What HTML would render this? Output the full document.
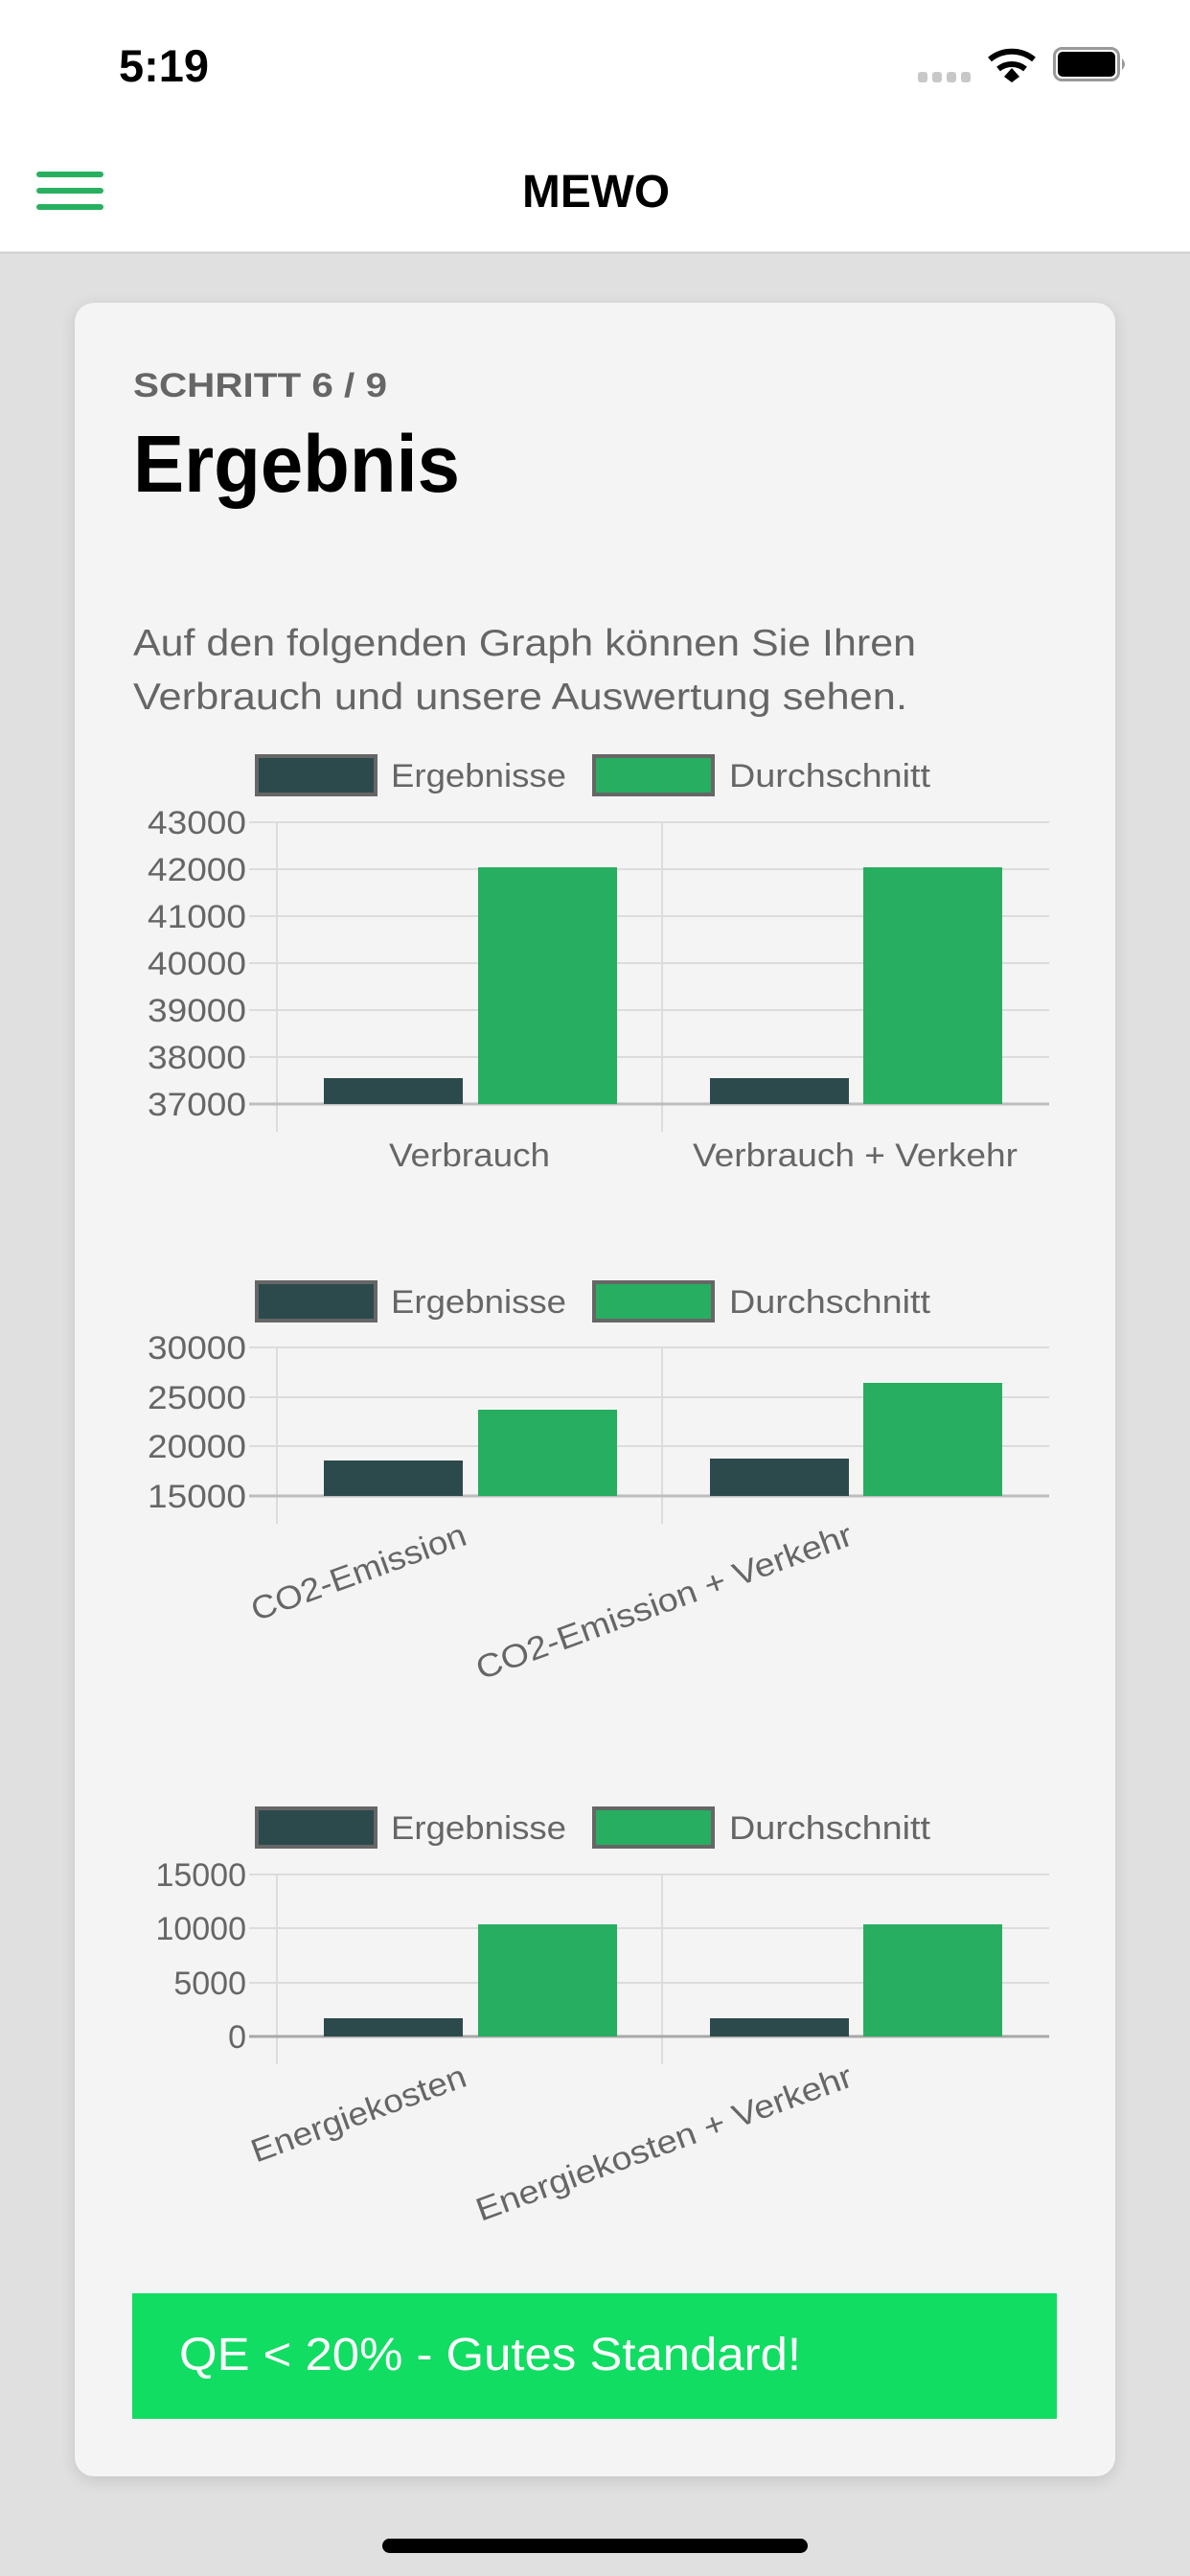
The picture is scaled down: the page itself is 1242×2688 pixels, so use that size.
<!DOCTYPE html>
<html><head><meta charset="utf-8"><style>
html,body{margin:0;padding:0}
body{width:1242px;height:2688px;background:#e0e0e0;position:relative;overflow:hidden;font-family:"Liberation Sans",sans-serif}
</style></head><body>
<svg width="1242" height="2688" viewBox="0 0 1242 2688" xmlns="http://www.w3.org/2000/svg" style="position:absolute;left:0;top:0">
<defs><filter id="sh" x="-5%" y="-5%" width="110%" height="110%"><feGaussianBlur stdDeviation="8"/></filter></defs>
<rect x="0" y="0" width="1242" height="263" fill="#fff"/>
<line x1="0" y1="263.5" x2="1242" y2="263.5" stroke="#cfcfcf" stroke-width="2"/>
<!-- status bar -->
<text x="124" y="85" font-size="47" font-weight="bold" fill="#000" font-family="Liberation Sans" textLength="94" lengthAdjust="spacingAndGlyphs">5:19</text>
<g fill="#c8c8c8"><rect x="958" y="75" width="10" height="11" rx="3"/><rect x="973" y="75" width="10" height="11" rx="3"/><rect x="988" y="75" width="10" height="11" rx="3"/><rect x="1003" y="75" width="10" height="11" rx="3"/></g>
<g fill="none" stroke="#000" stroke-width="6" stroke-linecap="butt">
<path d="M1033 62 A36 36 0 0 1 1079 62"/><path d="M1042 72 A22 22 0 0 1 1070 72"/></g>
<path d="M1048 80 L1056 71 L1064 80 L1056 86 Z" fill="#000"/>
<rect x="1100.5" y="50.5" width="67" height="33" rx="8" fill="none" stroke="#999" stroke-width="3"/>
<rect x="1104" y="54" width="60" height="26" rx="5" fill="#000"/>
<path d="M1171 61 Q1177 67 1171 73 Z" fill="#999"/>
<!-- nav -->
<g fill="#28b05f"><rect x="38" y="179" width="70" height="6" rx="3"/><rect x="38" y="196" width="70" height="6" rx="3"/><rect x="38" y="213" width="70" height="6" rx="3"/></g>
<text x="545" y="216" font-size="48" font-weight="bold" fill="#000" font-family="Liberation Sans" textLength="154" lengthAdjust="spacingAndGlyphs">MEWO</text>
<!-- card -->
<rect x="78" y="320" width="1086" height="2268" rx="20" fill="#000" opacity="0.12" filter="url(#sh)"/>
<rect x="78" y="316" width="1086" height="2268" rx="20" fill="#f4f4f4"/>
<text x="139" y="414" font-size="35" font-weight="bold" fill="#666" font-family="Liberation Sans" textLength="265" lengthAdjust="spacingAndGlyphs">SCHRITT 6 / 9</text>
<text x="139" y="513" font-size="84" font-weight="bold" fill="#000" font-family="Liberation Sans" textLength="341" lengthAdjust="spacingAndGlyphs">Ergebnis</text>
<text x="139" y="684" font-size="39" fill="#666" font-family="Liberation Sans" textLength="817" lengthAdjust="spacingAndGlyphs">Auf den folgenden Graph können Sie Ihren</text>
<text x="139" y="740" font-size="39" fill="#666" font-family="Liberation Sans" textLength="808" lengthAdjust="spacingAndGlyphs">Verbrauch und unsere Auswertung sehen.</text>

<g font-family="Liberation Sans" font-size="34" fill="#666" lengthAdjust="spacingAndGlyphs">
<!-- Chart 1 -->
<rect x="268" y="789" width="124" height="40" fill="#2c4a4b" stroke="#666" stroke-width="4"/>
<text x="408" y="821" textLength="183" lengthAdjust="spacingAndGlyphs">Ergebnisse</text>
<rect x="620" y="789" width="124" height="40" fill="#27ae60" stroke="#666" stroke-width="4"/>
<text x="761" y="821" textLength="210" lengthAdjust="spacingAndGlyphs">Durchschnitt</text>
<g stroke="#dcdcdc" stroke-width="2">
<line x1="260" y1="858" x2="1095" y2="858"/><line x1="260" y1="907" x2="1095" y2="907"/><line x1="260" y1="956" x2="1095" y2="956"/><line x1="260" y1="1005" x2="1095" y2="1005"/><line x1="260" y1="1054" x2="1095" y2="1054"/><line x1="260" y1="1103" x2="1095" y2="1103"/>
<line x1="289" y1="858" x2="289" y2="1181"/><line x1="691" y1="858" x2="691" y2="1181"/></g>
<line x1="260" y1="1152" x2="1095" y2="1152" stroke="#bdbdbd" stroke-width="3"/>
<rect x="338" y="1125" width="145" height="27" fill="#2c4a4b"/><rect x="499" y="905" width="145" height="247" fill="#27ae60"/>
<rect x="741" y="1125" width="145" height="27" fill="#2c4a4b"/><rect x="901" y="905" width="145" height="247" fill="#27ae60"/>
<g><text x="154" y="870" textLength="103" lengthAdjust="spacingAndGlyphs">43000</text><text x="154" y="919" textLength="103" lengthAdjust="spacingAndGlyphs">42000</text><text x="154" y="968" textLength="103" lengthAdjust="spacingAndGlyphs">41000</text><text x="154" y="1017" textLength="103" lengthAdjust="spacingAndGlyphs">40000</text><text x="154" y="1066" textLength="103" lengthAdjust="spacingAndGlyphs">39000</text><text x="154" y="1115" textLength="103" lengthAdjust="spacingAndGlyphs">38000</text><text x="154" y="1164" textLength="103" lengthAdjust="spacingAndGlyphs">37000</text></g>
<text x="406" y="1217" textLength="168" lengthAdjust="spacingAndGlyphs">Verbrauch</text>
<text x="723" y="1217" textLength="339" lengthAdjust="spacingAndGlyphs">Verbrauch + Verkehr</text>

<!-- Chart 2 -->
<rect x="268" y="1338" width="124" height="40" fill="#2c4a4b" stroke="#666" stroke-width="4"/>
<text x="408" y="1370" textLength="183" lengthAdjust="spacingAndGlyphs">Ergebnisse</text>
<rect x="620" y="1338" width="124" height="40" fill="#27ae60" stroke="#666" stroke-width="4"/>
<text x="761" y="1370" textLength="210" lengthAdjust="spacingAndGlyphs">Durchschnitt</text>
<g stroke="#dcdcdc" stroke-width="2">
<line x1="260" y1="1406" x2="1095" y2="1406"/><line x1="260" y1="1458" x2="1095" y2="1458"/><line x1="260" y1="1509" x2="1095" y2="1509"/>
<line x1="289" y1="1406" x2="289" y2="1590"/><line x1="691" y1="1406" x2="691" y2="1590"/></g>
<line x1="260" y1="1561" x2="1095" y2="1561" stroke="#bdbdbd" stroke-width="3"/>
<rect x="338" y="1524" width="145" height="37" fill="#2c4a4b"/><rect x="499" y="1471" width="145" height="90" fill="#27ae60"/>
<rect x="741" y="1522" width="145" height="39" fill="#2c4a4b"/><rect x="901" y="1443" width="145" height="118" fill="#27ae60"/>
<g><text x="154" y="1418" textLength="103" lengthAdjust="spacingAndGlyphs">30000</text><text x="154" y="1470" textLength="103" lengthAdjust="spacingAndGlyphs">25000</text><text x="154" y="1521" textLength="103" lengthAdjust="spacingAndGlyphs">20000</text><text x="154" y="1573" textLength="103" lengthAdjust="spacingAndGlyphs">15000</text></g>
<text x="-236" y="0" textLength="236" lengthAdjust="spacingAndGlyphs" transform="translate(489,1611) rotate(-20)">CO2-Emission</text>
<text x="-415" y="0" textLength="415" lengthAdjust="spacingAndGlyphs" transform="translate(892,1611) rotate(-20)">CO2-Emission + Verkehr</text>

<!-- Chart 3 -->
<rect x="268" y="1887" width="124" height="40" fill="#2c4a4b" stroke="#666" stroke-width="4"/>
<text x="408" y="1919" textLength="183" lengthAdjust="spacingAndGlyphs">Ergebnisse</text>
<rect x="620" y="1887" width="124" height="40" fill="#27ae60" stroke="#666" stroke-width="4"/>
<text x="761" y="1919" textLength="210" lengthAdjust="spacingAndGlyphs">Durchschnitt</text>
<g stroke="#dcdcdc" stroke-width="2">
<line x1="260" y1="1956" x2="1095" y2="1956"/><line x1="260" y1="2012" x2="1095" y2="2012"/><line x1="260" y1="2069" x2="1095" y2="2069"/>
<line x1="289" y1="1956" x2="289" y2="2154"/><line x1="691" y1="1956" x2="691" y2="2154"/></g>
<line x1="260" y1="2125" x2="1095" y2="2125" stroke="#a8a8a8" stroke-width="3"/>
<rect x="338" y="2106" width="145" height="19" fill="#2c4a4b"/><rect x="499" y="2008" width="145" height="117" fill="#27ae60"/>
<rect x="741" y="2106" width="145" height="19" fill="#2c4a4b"/><rect x="901" y="2008" width="145" height="117" fill="#27ae60"/>
<g text-anchor="end"><text x="257" y="1968">15000</text><text x="257" y="2024">10000</text><text x="257" y="2081">5000</text><text x="257" y="2137">0</text></g>
<text x="-236" y="0" textLength="236" lengthAdjust="spacingAndGlyphs" transform="translate(489,2176) rotate(-20)">Energiekosten</text>
<text x="-415" y="0" textLength="415" lengthAdjust="spacingAndGlyphs" transform="translate(892,2176) rotate(-20)">Energiekosten + Verkehr</text>
</g>

<!-- button -->
<rect x="138" y="2393" width="965" height="131" fill="#11dd63"/>
<text x="187" y="2473" font-size="48" fill="#fff" font-family="Liberation Sans" textLength="649" lengthAdjust="spacingAndGlyphs">QE &lt; 20% - Gutes Standard!</text>
<!-- home bar -->
<rect x="399" y="2649" width="444" height="15" rx="7.5" fill="#000"/>
</svg>
</body></html>
